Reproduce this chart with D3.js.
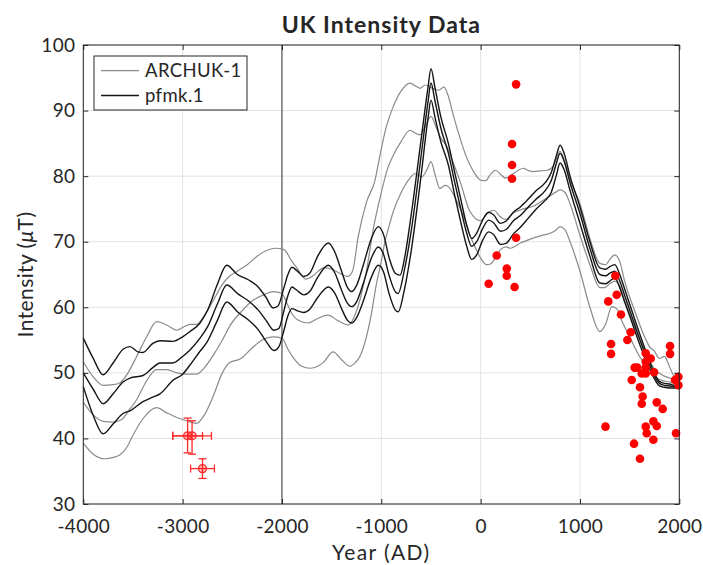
<!DOCTYPE html>
<html><head><meta charset="utf-8">
<script src="https://cdn.jsdelivr.net/npm/d3@7"></script>
<style>body{margin:0;background:#fff} text{font-family:Lato,"Open Sans",sans-serif;fill:#262626}</style>
</head><body><svg id="c" width="703" height="565"></svg>
<script>
// ---------- DATA ----------
const xTicks = [-4000,-3000,-2000,-1000,0,1000,2000];
const yTicks = [30,40,50,60,70,80,90,100];
const legendLabels = ["ARCHUK-1","pfmk.1"];
const titleText = "UK Intensity Data";

// ARCHUK-1 (grey): upper, middle, lower curves  [year, intensity]
const archukUpper = [[-4000,51.7],[-3900,49.4],[-3800,48.1],[-3700,48.2],[-3630,48.5],[-3550,50],[-3463,52.5],[-3362,55.5],[-3262,57.8],[-3160,57.3],[-3060,56.5],[-2990,57],[-2926,57.4],[-2859,57.4],[-2780,58.8],[-2700,60.8],[-2600,63.5],[-2523,64.8],[-2450,65.5],[-2350,66.5],[-2250,67.8],[-2150,68.7],[-2060,69],[-1980,68.8],[-1900,67],[-1850,66],[-1760,64.3],[-1680,64.9],[-1580,66],[-1500,65.8],[-1420,65.2],[-1340,64.7],[-1290,65.5],[-1232,70.8],[-1150,76],[-1063,79.4],[-1013,83.2],[-950,87.5],[-880,90.6],[-800,93],[-711,94.2],[-650,93.7],[-610,93.4],[-560,93.9],[-500,93.5],[-420,93.1],[-370,93.6],[-330,92.4],[-270,89],[-207,85.8],[-150,83.2],[-107,81.7],[-50,80.2],[0,79.4],[50,79.3],[100,80.3],[150,80.9],[200,80.3],[250,79.7],[320,80.3],[380,80.9],[430,81.2],[490,80.8],[530,80.7],[600,80.8],[670,80.9],[730,81.5],[800,83.8],[860,81.5],[900,79.5],[1000,75.8],[1100,70.5],[1200,66.7],[1260,66.5],[1300,67.3],[1350,68],[1400,67],[1450,64],[1550,59.5],[1650,55.5],[1700,54],[1750,53.3],[1800,52.2],[1850,52.5],[1900,51],[1950,49.4],[2000,49]];
const archukMid = [[-4000,45.5],[-3900,43.6],[-3800,42.6],[-3700,42.5],[-3614,42.9],[-3540,44.3],[-3463,45.9],[-3362,48.8],[-3262,50.5],[-3160,50.5],[-3060,50],[-2960,49.8],[-2859,49.8],[-2780,50.8],[-2691,52.7],[-2600,55],[-2523,57.2],[-2400,59.5],[-2288,61.1],[-2200,61.8],[-2088,62.4],[-2000,62.1],[-1950,60.6],[-1902,59.1],[-1820,57.9],[-1738,57.6],[-1640,58.3],[-1536,58.8],[-1440,58],[-1330,57.3],[-1260,59],[-1200,62],[-1150,65.5],[-1080,72],[-1000,77.5],[-940,81],[-879,83.2],[-800,85.3],[-711,87],[-650,86.5],[-610,86.3],[-550,87.8],[-500,89.1],[-450,87.5],[-400,85.8],[-340,84.5],[-300,83],[-207,79.2],[-107,74.6],[0,73.2],[60,74.2],[130,74.8],[200,73.8],[250,73.4],[330,74.4],[430,75],[530,75.4],[620,76.2],[700,77],[760,77.6],[800,77.9],[850,77.5],[900,75.8],[1000,71],[1100,66.5],[1200,63],[1250,63],[1300,63.6],[1350,64],[1400,63.2],[1450,61],[1550,57],[1650,53.5],[1750,50.6],[1850,49.5],[1950,49],[2000,48.7]];
const archukLower = [[-4000,39.3],[-3900,37.6],[-3780,36.9],[-3700,37.1],[-3630,37.5],[-3560,38.7],[-3496,40.6],[-3400,43],[-3262,44.7],[-3160,43.9],[-3060,43.2],[-2960,42.7],[-2859,42.3],[-2780,43.6],[-2691,46.5],[-2600,50],[-2523,51.6],[-2422,52.1],[-2300,53.8],[-2200,55],[-2088,55.5],[-2000,55.3],[-1940,53.6],[-1885,52.3],[-1800,51],[-1717,50.7],[-1640,51],[-1583,51.6],[-1485,53.2],[-1400,52],[-1316,51],[-1260,51.6],[-1216,52.5],[-1150,55.5],[-1100,59],[-1050,63.5],[-1000,67],[-963,70],[-920,72.5],[-879,74.6],[-800,77.5],[-711,79.7],[-660,80.4],[-593,79.9],[-540,81],[-500,82.2],[-455,80],[-410,78.1],[-360,78.6],[-325,78.4],[-260,76.8],[-207,75.1],[-150,73],[-107,71],[-50,69],[0,67.5],[60,66.5],[100,66.6],[150,67.6],[200,68.8],[260,69.2],[300,69],[400,69.8],[500,70.4],[600,70.9],[700,71.3],[760,71.8],[800,72.3],[850,71.8],[900,70],[1000,65.5],[1100,60],[1200,56.3],[1260,57.5],[1320,60.1],[1370,59.8],[1420,58],[1500,55.5],[1600,52.5],[1700,50.5],[1800,49],[1900,48.6],[2000,48.3]];

// pfmk.1 (black): upper, middle, lower curves
const pfmkUpper = [[-4000,55.3],[-3900,52.2],[-3800,49.7],[-3700,51.5],[-3600,53.6],[-3530,54],[-3450,53.2],[-3400,53.1],[-3300,54.5],[-3230,54.9],[-3100,54.8],[-3000,55.5],[-2926,56.3],[-2825,57.6],[-2750,59.5],[-2650,63.5],[-2556,66.4],[-2450,65],[-2340,64.2],[-2240,63.1],[-2160,61.5],[-2090,59.9],[-2040,60.2],[-1980,63],[-1940,65],[-1900,66.1],[-1850,65.6],[-1780,64.7],[-1720,65.2],[-1640,67.8],[-1533,69.8],[-1470,68.5],[-1400,65.5],[-1340,63],[-1300,62.4],[-1250,63.3],[-1180,66.5],[-1100,70.5],[-1030,72.3],[-980,71.2],[-920,67.5],[-860,65.2],[-812,64.9],[-760,68],[-700,74],[-600,85.5],[-530,93.5],[-500,96.4],[-460,93.5],[-400,89],[-325,85],[-260,80.5],[-200,76.5],[-140,72.5],[-90,70.5],[-40,71.3],[20,73.3],[80,74.5],[130,74.1],[200,72.8],[260,73.2],[330,74.5],[400,75.3],[480,76.5],[560,77.8],[650,79],[710,80.5],[760,83],[800,84.7],[840,83.5],[900,80],[1000,75.3],[1100,70],[1200,66],[1260,65.8],[1300,66.2],[1350,66.5],[1400,65],[1450,62.8],[1500,60.5],[1600,56],[1700,51.8],[1760,49.6],[1800,48.7],[1850,48.4],[1900,48.3],[1950,48.1],[2000,48]];
const pfmkMid = [[-4000,50.0],[-3900,47.5],[-3800,45.3],[-3700,46.8],[-3600,48.6],[-3530,49.2],[-3400,49.6],[-3300,50.8],[-3230,51.5],[-3100,51.5],[-3000,52.5],[-2926,53.5],[-2825,55.3],[-2750,57],[-2650,60.5],[-2556,63.4],[-2440,62],[-2340,61],[-2240,59.6],[-2160,58],[-2080,56.5],[-2030,56.8],[-1980,59.5],[-1940,61.8],[-1900,63.1],[-1850,62.6],[-1780,61.9],[-1720,62.4],[-1640,64.6],[-1533,66.4],[-1470,65.3],[-1400,62.6],[-1340,60.6],[-1300,60.1],[-1250,60.8],[-1180,63.7],[-1100,67.5],[-1030,69.2],[-980,68.2],[-920,64.8],[-860,62.4],[-830,62.1],[-770,65.5],[-700,71.5],[-600,83],[-530,91.3],[-500,94.2],[-460,91.5],[-400,87.3],[-325,83.5],[-260,79],[-200,75],[-140,71.3],[-90,69.3],[-40,70],[20,72],[80,73.3],[130,72.9],[200,71.6],[260,71.9],[330,73.2],[400,74],[480,75.3],[560,76.5],[650,77.8],[710,79.3],[760,81.8],[800,83.5],[840,82.3],[900,79],[1000,74.3],[1100,69],[1200,65],[1260,64.8],[1300,65.2],[1350,65.5],[1400,64],[1450,61.8],[1500,59.6],[1600,55.2],[1700,51.2],[1760,49.2],[1800,48.4],[1850,48.1],[1900,48],[1950,47.9],[2000,47.8]];
const pfmkLower = [[-4000,47.9],[-3900,43.5],[-3800,40.7],[-3700,42.2],[-3600,43.8],[-3530,44.2],[-3400,45.6],[-3300,46.3],[-3228,46.8],[-3094,48.9],[-3000,49.8],[-2926,51.2],[-2825,53.3],[-2758,54.6],[-2650,58],[-2556,60.8],[-2440,59.2],[-2340,58.1],[-2240,56.6],[-2160,54.8],[-2080,53.4],[-2030,54],[-1980,56.5],[-1940,58.7],[-1900,59.8],[-1850,59.5],[-1780,59.2],[-1720,59.7],[-1640,61.5],[-1533,63.1],[-1470,62.2],[-1400,59.8],[-1340,58],[-1300,57.6],[-1250,58.4],[-1180,61],[-1100,64.6],[-1030,66.4],[-980,65.5],[-920,62],[-860,59.6],[-830,59.3],[-770,62.5],[-700,68.5],[-600,80],[-530,88.8],[-500,91.6],[-460,89],[-400,85.2],[-325,81.7],[-260,77],[-200,73],[-140,69.3],[-90,67.3],[-40,68],[20,70.2],[80,71.5],[130,71.1],[200,69.6],[260,69.8],[330,71.2],[400,72.2],[480,73.6],[560,75],[650,76.3],[710,77.5],[760,80],[800,82],[840,81],[900,77.8],[1000,72.8],[1100,67.8],[1200,63.7],[1260,63.6],[1300,64],[1350,64.5],[1400,63],[1450,60.8],[1500,58.7],[1600,54.4],[1700,50.6],[1760,48.8],[1800,48],[1850,47.8],[1900,47.7],[1950,47.7],[2000,47.6]];

// UK archaeointensity data (red dots) [year, intensity]
const ukData = [[81,63.6],[162,67.9],[263,65.9],[263,64.8],[316,84.9],[316,81.7],[316,79.6],[342,63.1],[357,94.0],[357,70.6],
[1257,41.8],[1285,60.9],[1313,54.4],[1313,52.9],[1356,64.8],[1370,61.9],[1413,58.9],[1477,55.0],[1511,56.2],[1521,48.9],[1544,39.2],[1551,50.8],[1577,50.8],[1604,47.8],[1604,36.9],[1622,49.9],[1622,45.3],[1631,46.4],[1662,53.0],[1662,51.7],[1662,50.8],[1662,49.9],[1662,41.8],[1672,40.8],[1712,52.2],[1739,42.6],[1739,39.8],[1746,50.1],[1773,45.5],[1773,41.9],[1833,44.5],[1907,54.1],[1907,52.9],[1957,48.9],[1967,40.8],[1991,49.4],[1991,48.1]];

// Prehistoric data with error bars: year, yearMin, yearMax, intensity, intMin, intMax
const errYears   = [-2950,-2905,-2800];
const errYearLo  = [-3100,-3100,-2920];
const errYearHi  = [-2800,-2710,-2680];
const errValues  = [40.4,40.4,35.4];
const errValLo   = [37.8,37.6,33.9];
const errValHi   = [43.1,42.7,36.9];

// ---------- CHART ----------
const W = 703, H = 565;
const L = 83.3, R = 679.3, T = 45, B = 504;
const svg = d3.select("#c");
svg.append("rect").attr("width",W).attr("height",H).attr("fill","#fff");

const x = d3.scaleLinear().domain([-4000,2000]).range([L,R]);
const y = d3.scaleLinear().domain([30,100]).range([B,T]);

// grid
const grid = svg.append("g");
grid.selectAll(".gx").data(xTicks).join("line")
  .attr("x1",d=>x(d)).attr("x2",d=>x(d)).attr("y1",T).attr("y2",B)
  .attr("stroke","#e2e2e2").attr("stroke-width",1);
grid.selectAll(".gy").data(yTicks).join("line")
  .attr("x1",L).attr("x2",R).attr("y1",d=>y(d)).attr("y2",d=>y(d))
  .attr("stroke","#e2e2e2").attr("stroke-width",1);
// dark reference line at -2000
svg.append("line").attr("x1",x(-2000)).attr("x2",x(-2000)).attr("y1",T).attr("y2",B)
  .attr("stroke","#3a3a3a").attr("stroke-width",1);

const line = d3.line().x(d=>x(d[0])).y(d=>y(d[1])).curve(d3.curveMonotoneX);
const g = svg.append("g");
[archukUpper, archukMid, archukLower].forEach(s=>{
  g.append("path").attr("d",line(s)).attr("fill","none").attr("stroke","#8a8a8a").attr("stroke-width",1.2);
});
[pfmkUpper, pfmkMid, pfmkLower].forEach(s=>{
  g.append("path").attr("d",line(s)).attr("fill","none").attr("stroke","#151515").attr("stroke-width",1.4);
});

// red dots
svg.append("g").selectAll("circle").data(ukData).join("circle")
  .attr("cx",d=>x(d[0])).attr("cy",d=>y(d[1])).attr("r",4.3).attr("fill","#ff0000");

// error bars
const eb = svg.append("g").attr("stroke","#ff2a2a").attr("stroke-width",1.3).attr("fill","none");
errYears.forEach((yr,i)=>{
  const cx = x(yr), cy = y(errValues[i]);
  eb.append("line").attr("x1",x(errYearLo[i])).attr("x2",x(errYearHi[i])).attr("y1",cy).attr("y2",cy);
  eb.append("line").attr("x1",x(errYearLo[i])).attr("x2",x(errYearLo[i])).attr("y1",cy-4).attr("y2",cy+4);
  eb.append("line").attr("x1",x(errYearHi[i])).attr("x2",x(errYearHi[i])).attr("y1",cy-4).attr("y2",cy+4);
  eb.append("line").attr("x1",cx).attr("x2",cx).attr("y1",y(errValLo[i])).attr("y2",y(errValHi[i]));
  eb.append("line").attr("x1",cx-4).attr("x2",cx+4).attr("y1",y(errValLo[i])).attr("y2",y(errValLo[i]));
  eb.append("line").attr("x1",cx-4).attr("x2",cx+4).attr("y1",y(errValHi[i])).attr("y2",y(errValHi[i]));
  eb.append("circle").attr("cx",cx).attr("cy",cy).attr("r",4).attr("fill","rgba(255,0,0,0.25)");
});

// axes
const fmt = d=>String(d);
const axB = svg.append("g").attr("transform",`translate(0,${B})`)
  .call(d3.axisBottom(x).tickValues(xTicks).tickSize(-5).tickPadding(16).tickFormat(fmt));
const axT = svg.append("g").attr("transform",`translate(0,${T})`)
  .call(d3.axisTop(x).tickValues(xTicks).tickSize(-5).tickFormat(""));
const axL = svg.append("g").attr("transform",`translate(${L},0)`)
  .call(d3.axisLeft(y).tickValues(yTicks).tickSize(-5).tickPadding(8).tickFormat(fmt));
const axR = svg.append("g").attr("transform",`translate(${R},0)`)
  .call(d3.axisRight(y).tickValues(yTicks).tickSize(-5).tickFormat(""));
[axB,axT,axL,axR].forEach(a=>{
  a.select(".domain").remove();
  a.selectAll("line").attr("stroke","#262626");
  a.selectAll("text").attr("font-size",19).attr("font-family","Lato, sans-serif")
    .attr("letter-spacing","0.3px").attr("fill","#262626");
});
svg.append("rect").attr("x",L).attr("y",T).attr("width",R-L).attr("height",B-T)
  .attr("fill","none").attr("stroke","#262626").attr("stroke-width",1);

// title & labels
svg.append("text").attr("x",(L+R)/2).attr("y",33).attr("text-anchor","middle")
  .attr("font-size",23).attr("font-weight","bold").attr("letter-spacing","1px")
  .attr("fill","#000").text(titleText);
svg.append("text").attr("x",(L+R)/2).attr("y",560).attr("text-anchor","middle")
  .attr("font-size",21).attr("letter-spacing","1.4px").text("Year (AD)");
const yl = svg.append("text").attr("transform",`translate(33,${(T+B)/2}) rotate(-90)`)
  .attr("text-anchor","middle").attr("font-size",21).attr("letter-spacing","0.4px");
yl.append("tspan").text("Intensity (");
yl.append("tspan").attr("font-style","italic").text("μ");
yl.append("tspan").text("T)");

// legend
const lg = svg.append("g");
lg.append("rect").attr("x",94).attr("y",56).attr("width",153).attr("height",54)
  .attr("fill","#fff").attr("stroke","#262626").attr("stroke-width",1);
const legColors = ["#8a8a8a","#151515"];
legendLabels.forEach((t,i)=>{
  const ly = 70.7 + i*24.8;
  lg.append("line").attr("x1",101).attr("x2",139).attr("y1",ly).attr("y2",ly)
    .attr("stroke",legColors[i]).attr("stroke-width",i?1.4:1.2);
  lg.append("text").attr("x",145).attr("y",ly).attr("dy","0.35em").attr("font-size",18.5)
    .attr("letter-spacing","0.4px").text(t);
});
</script></body></html>
